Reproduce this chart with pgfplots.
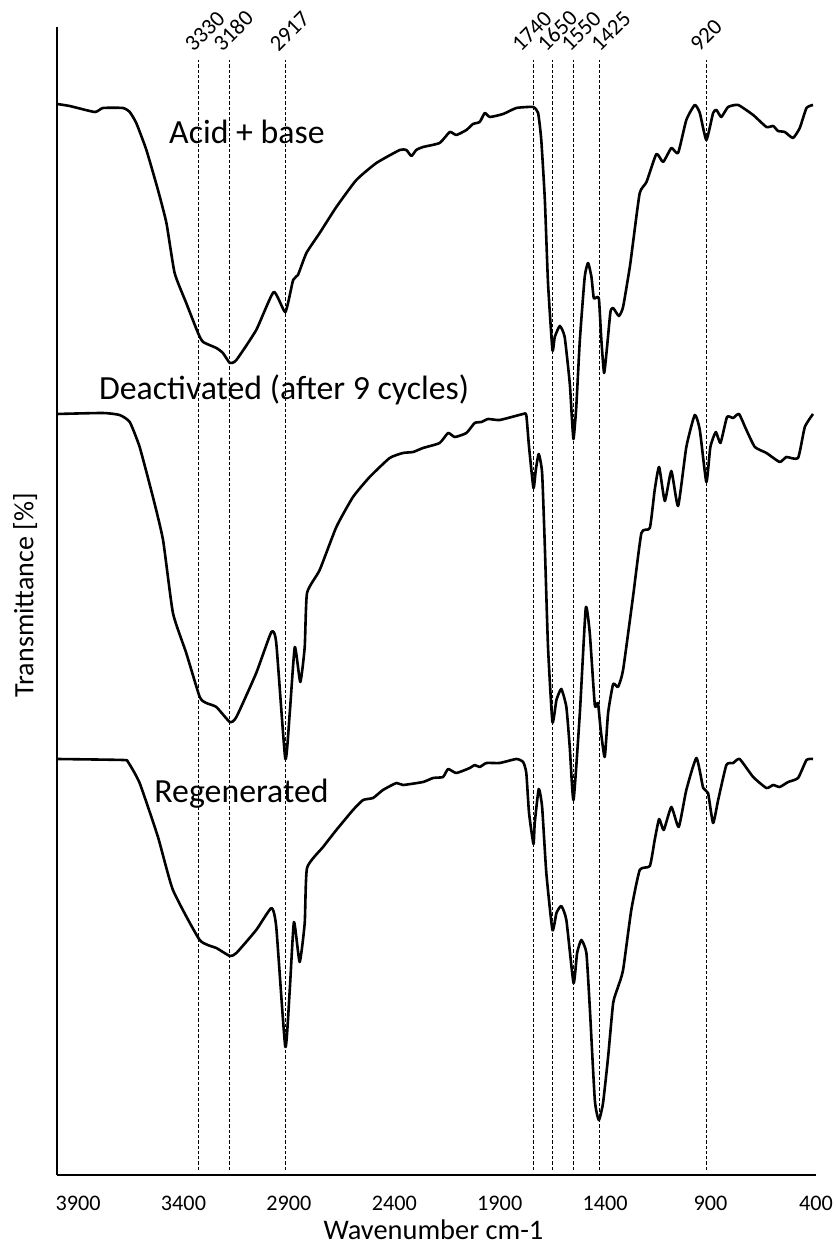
\documentclass[border=0pt]{standalone}
\usepackage{pgfplots}
\pgfplotsset{compat=1.18}
\usepackage{fontspec}
\setmainfont{Carlito}

\tikzset{
  spec/.style={black, line width=1.3pt, smooth, tension=0.3, line join=round},
  peak/.style={black, line width=0.6pt, dash pattern=on 1.65pt off 1pt},
  lab/.style={font=\fontsize{16.9}{19}\selectfont, anchor=base},
  wn/.style={font=\fontsize{11.3}{13}\selectfont, xshift=#1, yshift=3.5pt, rotate=45, anchor=south west, inner sep=0pt},
}

\begin{document}
\begin{tikzpicture}
\begin{axis}[
  name=ax,
  scale only axis,
  width=379.5pt, height=574pt,
  xmin=400, xmax=4000, x dir=reverse,
  ymin=0, ymax=1148,
  axis x line=bottom, axis y line=left,
  axis line style={-, line width=1.3pt},
  xtick={400,900,...,3900},
  ytick=\empty,
  major tick length=0pt,
  /pgf/number format/assume math mode=true,
  /pgf/number format/1000 sep={},
  x tick label style={font=\fontsize{11.1}{13}\selectfont, anchor=base, yshift=-17.8pt},
  xlabel={Wavenumber cm-1},
  ylabel={Transmittance [\%]},
  xlabel style={at={(axis description cs:0.496,0)}, anchor=base, yshift=-32pt, font=\fontsize{14.2}{16}\selectfont},
  ylabel style={at={(axis description cs:-0.0312,0.505)}, anchor=base, font=\fontsize{14}{16}\selectfont},
  clip=false,
]

% marked bands
\addplot[peak] coordinates {(3330,5) (3330,1115)};
\addplot[peak] coordinates {(3180,5) (3180,1115)};
\addplot[peak] coordinates {(2917,5) (2917,1115)};
\addplot[peak] coordinates {(1740,5) (1740,1115)};
\addplot[peak] coordinates {(1650,5) (1650,1115)};
\addplot[peak] coordinates {(1550,5) (1550,1115)};
\addplot[peak] coordinates {(1425,5) (1425,1115)};
\addplot[peak] coordinates {(920,5) (920,1115)};
\node[wn=-2.2pt] at (axis cs:3330,1115) {3330};
\node[wn=-3.7pt] at (axis cs:3180,1115) {3180};
\node[wn=-3.4pt] at (axis cs:2917,1115) {2917};
\node[wn=-6.3pt] at (axis cs:1740,1115) {1740};
\node[wn=-3pt] at (axis cs:1650,1115) {1650};
\node[wn=-1.7pt] at (axis cs:1550,1115) {1550};
\node[wn=0pt] at (axis cs:1425,1115) {1425};
\node[wn=-3.6pt] at (axis cs:920,1115) {920};

% acid + base
\addplot[spec] coordinates {
(4000,1071) (3940,1069) (3821,1063) (3782,1067) (3687,1067) (3655,1063)
(3624,1052) (3576,1025) (3521,985) (3481,952) (3442,902) (3387,872)
(3331,842) (3307,833) (3244,827) (3213,822) (3180,812) (3149,815)
(3055,845) (2972,883) (2917,863) (2880,895) (2857,900) (2817,922)
(2754,942) (2675,968) (2580,995) (2485,1012) (2374,1025) (2343,1025)
(2319,1019) (2296,1025) (2264,1028) (2185,1032) (2137,1043) (2106,1040)
(2058,1045) (2027,1051) (1995,1053) (1971,1062) (1947,1058) (1884,1061)
(1821,1067) (1742,1068) (1718,1062) (1703,1035) (1686,975) (1671,892)
(1650,825) (1639,838) (1615,849) (1592,838) (1568,792) (1558,758)
(1550,736) (1537,768) (1520,835) (1497,898) (1481,912) (1465,898)
(1454,877) (1438,878) (1429,875) (1418,835) (1405,802) (1391,828)
(1375,863) (1362,867) (1335,859) (1315,868) (1283,908) (1268,932)
(1236,982) (1204,993) (1157,1021) (1125,1013) (1086,1027) (1054,1022)
(1015,1055) (975,1070) (951,1062) (920,1035) (888,1062) (872,1065)
(849,1058) (817,1068) (769,1070) (698,1060) (635,1048) (603,1049)
(580,1044) (548,1043) (509,1037) (477,1047) (445,1067) (414,1070)
};

% deactivated
\addplot[spec] coordinates {
(4000,761) (3782,762) (3703,760) (3655,753) (3608,728) (3545,678)
(3497,635) (3450,562) (3387,522) (3323,478) (3292,472) (3244,468)
(3180,453) (3149,458) (3055,502) (2983,543) (2960,532) (2917,416)
(2896,462) (2872,528) (2846,493) (2825,528) (2814,582) (2754,605)
(2675,648) (2596,678) (2517,698) (2422,717) (2359,722) (2311,723)
(2264,727) (2185,732) (2145,742) (2113,738) (2058,742) (2019,752)
(1987,753) (1955,756) (1900,755) (1789,761) (1774,760) (1761,728)
(1740,687) (1729,705) (1715,721) (1699,702) (1686,628) (1671,528)
(1650,453) (1631,475) (1608,486) (1584,468) (1568,428) (1550,375)
(1520,462) (1492,567) (1473,542) (1449,470) (1434,472) (1421,445)
(1402,418) (1386,462) (1362,491) (1339,488) (1315,505) (1268,578)
(1228,642) (1188,647) (1165,685) (1144,708) (1117,674) (1086,704)
(1054,669) (1015,728) (975,760) (951,745) (920,693) (901,728)
(875,743) (853,732) (822,758) (793,757) (765,761) (730,745)
(690,728) (635,722) (572,713) (540,718) (485,717) (453,748) (414,761)
};

% regenerated
\addplot[spec] coordinates {
(4000,416) (3687,415) (3663,413) (3608,392) (3521,338) (3450,285)
(3323,235) (3244,227) (3180,219) (3149,222) (3055,245) (2983,267)
(2960,248) (2917,128) (2896,185) (2876,253) (2849,213) (2825,252)
(2814,307) (2738,328) (2675,345) (2596,365) (2548,375) (2501,377)
(2454,385) (2390,392) (2359,390) (2264,393) (2216,397) (2169,398)
(2145,406) (2106,402) (2042,407) (2019,410) (1995,408) (1963,412)
(1900,412) (1821,416) (1789,413) (1774,402) (1761,362) (1740,331)
(1734,352) (1715,386) (1699,368) (1679,302) (1650,245) (1631,262)
(1608,269) (1584,255) (1550,192) (1533,222) (1513,235) (1489,222)
(1473,168) (1449,75) (1430,55) (1410,72) (1386,118) (1362,172)
(1339,188) (1315,205) (1276,265) (1236,305) (1188,309) (1165,335)
(1144,356) (1122,345) (1086,368) (1051,348) (1015,385) (967,417)
(935,387) (912,382) (888,352) (864,375) (825,410) (793,412)
(762,416) (698,398) (635,387) (603,390) (572,388) (532,393)
(485,397) (445,415) (414,416)
};

\node[lab] at (axis cs:3099,1031) {Acid + base};
\node[lab] at (axis cs:2923,775) {Deactivated (after 9 cycles)};
\node[lab] at (axis cs:3125,372) {Regenerated};
\end{axis}
\pgfresetboundingbox
\path ([shift={(-28.5pt,-33.5pt)}]ax.south west) rectangle ([shift={(10pt,13.5pt)}]ax.north east);
\end{tikzpicture}
\end{document}
